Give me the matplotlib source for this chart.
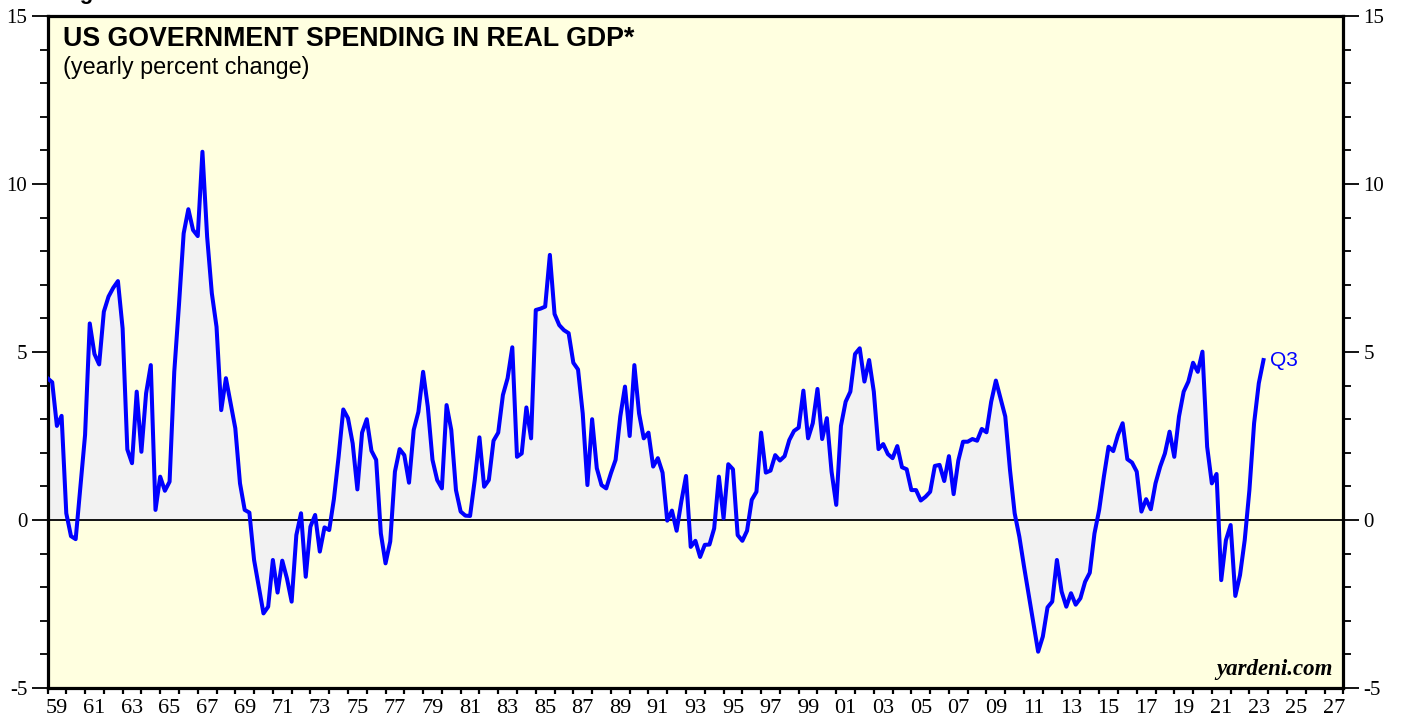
import numpy as np
import matplotlib.pyplot as plt
from matplotlib.ticker import MultipleLocator, FixedLocator

plt.rcParams["axes.unicode_minus"] = False

# US government spending in real GDP, yearly % change, quarterly (1959 -> 2023 Q3)
vals_1959_1968 = [4.22, 4.10, 2.80, 3.10, 0.20, -0.48, -0.57, 0.99, 2.53, 5.85,
                  4.94, 4.63, 6.20, 6.65, 6.91, 7.11, 5.70, 2.10, 1.69, 3.82,
                  2.03, 3.77, 4.61, 0.30, 1.29, 0.87, 1.14, 4.41, 6.40, 8.53,
                  9.25, 8.63, 8.45, 10.96, 8.43, 6.75, 5.75, 3.27, 4.22, 3.47]
vals_1969_1978 = [2.73, 1.09, 0.30, 0.22, -1.19, -1.98, -2.78, -2.58, -1.19, -2.16,
                  -1.21, -1.74, -2.43, -0.45, 0.20, -1.69, -0.20, 0.15, -0.94, -0.22,
                  -0.30, 0.62, 1.88, 3.29, 3.03, 2.28, 0.91, 2.60, 3.00, 2.06,
                  1.79, -0.40, -1.29, -0.64, 1.44, 2.11, 1.93, 1.11, 2.68, 3.22]
vals_1979_1988 = [4.41, 3.37, 1.79, 1.19, 0.94, 3.42, 2.68, 0.89, 0.25, 0.13,
                  0.12, 1.19, 2.46, 0.99, 1.19, 2.36, 2.60, 3.72, 4.22, 5.14,
                  1.88, 1.98, 3.35, 2.43, 6.25, 6.29, 6.35, 7.89, 6.13, 5.80,
                  5.65, 5.56, 4.68, 4.48, 3.17, 1.04, 3.00, 1.54, 1.04, 0.94]
vals_1989_1998 = [1.39, 1.79, 3.08, 3.97, 2.50, 4.61, 3.17, 2.43, 2.60, 1.59,
                  1.84, 1.41, -0.02, 0.28, -0.32, 0.55, 1.31, -0.80, -0.62, -1.10,
                  -0.74, -0.73, -0.25, 1.29, 0.05, 1.66, 1.51, -0.45, -0.62, -0.32,
                  0.60, 0.84, 2.60, 1.41, 1.47, 1.93, 1.77, 1.90, 2.38, 2.65]
vals_1999_2008 = [2.75, 3.85, 2.43, 2.88, 3.90, 2.41, 3.03, 1.44, 0.45, 2.80,
                  3.52, 3.82, 4.94, 5.11, 4.12, 4.76, 3.82, 2.11, 2.26, 1.96,
                  1.84, 2.20, 1.57, 1.51, 0.89, 0.89, 0.58, 0.69, 0.84, 1.61,
                  1.64, 1.16, 1.90, 0.77, 1.77, 2.33, 2.33, 2.41, 2.36, 2.71]
vals_2009_2018 = [2.61, 3.52, 4.15, 3.62, 3.08, 1.50, 0.20, -0.50, -1.39, -2.23,
                  -3.08, -3.92, -3.47, -2.60, -2.43, -1.19, -2.13, -2.58, -2.18, -2.52,
                  -2.33, -1.84, -1.57, -0.40, 0.30, 1.29, 2.18, 2.05, 2.53, 2.88,
                  1.81, 1.71, 1.44, 0.25, 0.62, 0.32, 1.09, 1.59, 1.98, 2.63]
vals_2019_2023 = [1.88, 3.08, 3.82, 4.12, 4.68, 4.41, 5.01, 2.18, 1.09, 1.37,
                  -1.79, -0.60, -0.15, -2.26, -1.64, -0.60, 0.89, 2.88, 4.07, 4.76]

values = np.array(vals_1959_1968 + vals_1969_1978 + vals_1979_1988 + vals_1989_1998
                  + vals_1999_2008 + vals_2009_2018 + vals_2019_2023)
dates = 1959.0 + 0.25 * np.arange(len(values))
shade_end = 249          # shaded area stops at 2021

year_labels = ["%02d" % (y % 100) for y in range(1959, 2028, 2)]
year_label_pos = [y + 0.5 for y in range(1959, 2028, 2)]

BLUE = "#0000ff"
SERIF = "Liberation Serif"
SANS = "Liberation Sans"

fig = plt.figure(figsize=(14.03, 7.19), dpi=100)
ax = fig.add_axes([0.03386, 0.04312, 0.92359, 0.93463])
ax.set_facecolor("#ffffe0")

ax.fill_between(dates[:shade_end], values[:shade_end], 0, color="#f2f2f2", lw=0, zorder=1)
ax.axhline(0, color="black", lw=1.3, zorder=2)
ax.plot(dates, values, color=BLUE, lw=2.9, zorder=3)

ax.set_xlim(1959, 2028)
ax.set_ylim(-5, 15)

# y axis: labels both sides, major every 5, minor every 1
ax.yaxis.set_major_locator(MultipleLocator(5))
ax.yaxis.set_minor_locator(MultipleLocator(1))
ax.tick_params(axis="y", which="both", direction="out", left=True, right=True,
               labelleft=True, labelright=True, width=1.3, colors="black")
ax.tick_params(axis="y", which="major", length=11.5, pad=3, labelsize=15)
ax.tick_params(axis="y", which="minor", length=5.5)

# x axis: tick every year, two-digit labels between ticks
ax.xaxis.set_major_locator(MultipleLocator(1))
ax.xaxis.set_minor_locator(FixedLocator(year_label_pos))
ax.xaxis.set_major_formatter(plt.NullFormatter())
ax.xaxis.set_minor_formatter(plt.FixedFormatter(year_labels))
ax.tick_params(axis="x", which="major", direction="out", length=4.5, width=1.6)
ax.tick_params(axis="x", which="minor", length=0, pad=8, labelsize=16)

for lbl in ax.get_xticklabels(minor=True) + ax.get_yticklabels():
    lbl.set_fontfamily(SERIF)

for s in ax.spines.values():
    s.set_linewidth(2.3)

ax.text(0.012, 0.985, "US GOVERNMENT SPENDING IN REAL GDP*", transform=ax.transAxes,
        fontsize=19.3, fontweight="bold", family=SANS, va="top", ha="left")
ax.text(0.012, 0.94, "(yearly percent change)", transform=ax.transAxes,
        fontsize=16.8, family=SANS, va="top", ha="left")
ax.text(0.992, 0.012, "yardeni.com", transform=ax.transAxes, fontsize=16.5,
        fontweight="bold", style="italic", family=SERIF, ha="right", va="bottom")
ax.annotate("Q3", xy=(dates[-1], values[-1]), xytext=(5, 0), textcoords="offset points",
            color=BLUE, fontsize=15, family=SANS, va="center", ha="left")

# caption at the very top, mostly cut off as in the original
fig.text(0.043, 1 + 1 / 719, "Figure 5.", fontsize=16, fontweight="bold", family=SANS,
         va="baseline", ha="left")

fig.savefig("out.png", dpi=100)
